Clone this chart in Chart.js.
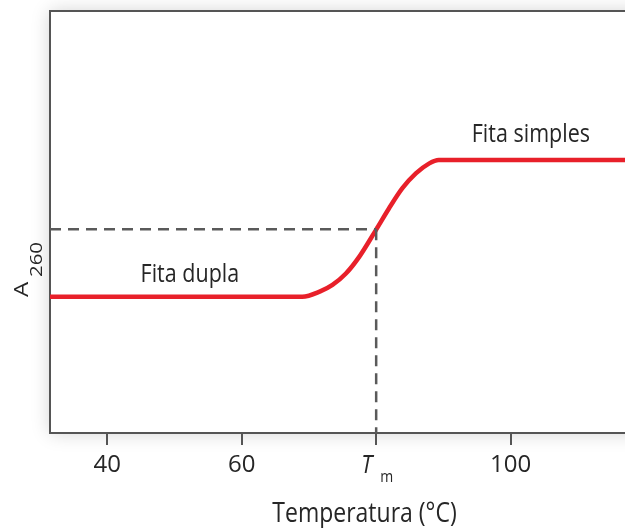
<!DOCTYPE html>
<html>
<head>
<meta charset="utf-8">
<script src="https://cdn.jsdelivr.net/npm/chart.js@4"></script>
<style>
html,body{margin:0;padding:0;background:#fff;}
#c{display:block;}
</style>
</head>
<body>
<canvas id="c" width="625" height="528"></canvas>
<script>
// ---- data ----
const xTicks = [40, 60, 80, 100];
const xTickLabels = ['40', '60', '', '100'];   // 80 is labelled T_m (drawn separately)
const curveX = [31.5, 69.0, 71.6, 73.5, 75.5, 77.5, 80.0, 81.9, 83.9, 85.9, 87.9, 89.3, 117];
const curveY = [32.3, 32.3, 33.5, 35.1, 37.8, 41.8, 48.2, 53.2, 58.0, 61.5, 63.9, 64.7, 64.7];
const tmX = 80;
const tmY = 48.3;
const xMin = 31.5, xMax = 117;
const yMin = 0, yMax = 100;
const curveLabels = ['Fita dupla', 'Fita simples'];
const curveLabelX = [52.3, 103.0];
const curveLabelY = [35.8, 69.0];

const FONT = '"Open Sans", "Noto Sans", sans-serif';
const AXIS = '#555';
const TEXT = '#262626';
const VS = 1.15; // vertical stretch of the lettering

function stretchedText(ctx, txt, x, y, font, align) {
  ctx.save();
  ctx.translate(x, y);
  ctx.scale(1, VS);
  ctx.font = font;
  ctx.textAlign = align;
  ctx.textBaseline = 'alphabetic';
  ctx.fillText(txt, 0, 0);
  ctx.restore();
}

const decor = {
  id: 'decor',
  beforeDraw(chart) {
    const {ctx, chartArea: a} = chart;
    ctx.save();
    ctx.shadowColor = 'rgba(0,0,0,0.18)';
    ctx.shadowBlur = 18;
    ctx.fillStyle = '#fff';
    ctx.fillRect(a.left, a.top, a.right - a.left + 30, a.bottom - a.top);
    ctx.restore();
  },
  afterDraw(chart) {
    const {ctx, chartArea: a, scales: {x, y}} = chart;
    ctx.save();
    // top border
    ctx.strokeStyle = AXIS;
    ctx.lineWidth = 2;
    ctx.beginPath();
    ctx.moveTo(a.left - 1, a.top);
    ctx.lineTo(chart.width, a.top);
    ctx.stroke();
    ctx.fillStyle = TEXT;
    // curve labels
    curveLabels.forEach((t, i) =>
      stretchedText(ctx, t, x.getPixelForValue(curveLabelX[i]), y.getPixelForValue(curveLabelY[i]),
        '21.5px ' + FONT, 'center'));
    // T_m tick label
    const px = x.getPixelForValue(tmX);
    stretchedText(ctx, 'T', px - 15, 473, 'italic 22px ' + FONT, 'left');
    stretchedText(ctx, 'm', px + 4, 482, '14px ' + FONT, 'left');
    // x title
    stretchedText(ctx, 'Temperatura (°C)', 364.5, 522, '23px ' + FONT, 'center');
    // y title A_260 (rotated, stretched along the text)
    ctx.translate(0, 300);
    ctx.rotate(-Math.PI / 2);
    ctx.scale(1.2, 1);
    ctx.textAlign = 'left';
    ctx.textBaseline = 'alphabetic';
    ctx.font = '20px ' + FONT;
    ctx.fillText('A', 3 / 1.2, 28);
    ctx.font = '17px ' + FONT;
    ctx.fillText('260', 23 / 1.2, 42);
    ctx.restore();
  }
};

new Chart(document.getElementById('c'), {
  type: 'scatter',
  data: {
    datasets: [
      {
        data: [{x: xMin, y: tmY}, {x: tmX, y: tmY}],
        showLine: true, borderColor: '#5a5a5a', borderWidth: 2.5, borderDash: [11, 7],
        pointRadius: 0
      },
      {
        data: [{x: tmX, y: tmY}, {x: tmX, y: yMin}],
        showLine: true, borderColor: '#5a5a5a', borderWidth: 2.5, borderDash: [11, 7],
        pointRadius: 0
      },
      {
        data: curveX.map((v, i) => ({x: v, y: curveY[i]})),
        showLine: true, borderColor: '#e8202a', borderWidth: 4.5,
        cubicInterpolationMode: 'monotone', pointRadius: 0
      }
    ]
  },
  options: {
    responsive: false,
    animation: false,
    layout: {padding: {top: 11, right: 0, left: 0, bottom: 0}},
    plugins: {legend: {display: false}, tooltip: {enabled: false}},
    scales: {
      x: {
        type: 'linear', min: xMin, max: xMax,
        afterBuildTicks: s => { s.ticks = xTicks.map(v => ({value: v})); },
        afterFit: s => { s.height = 95; },
        ticks: {
          callback: v => xTickLabels[xTicks.indexOf(v)] ?? '',
          color: TEXT, font: {family: FONT, size: 24}, padding: 6, maxRotation: 0
        },
        grid: {drawOnChartArea: false, drawTicks: true, tickLength: 12, lineWidth: 2, color: AXIS},
        border: {color: AXIS, width: 2}
      },
      y: {
        min: yMin, max: yMax,
        afterFit: s => { s.width = 50; },
        ticks: {display: false},
        grid: {display: false},
        border: {color: AXIS, width: 2}
      }
    }
  },
  plugins: [decor]
});
</script>
</body>
</html>
